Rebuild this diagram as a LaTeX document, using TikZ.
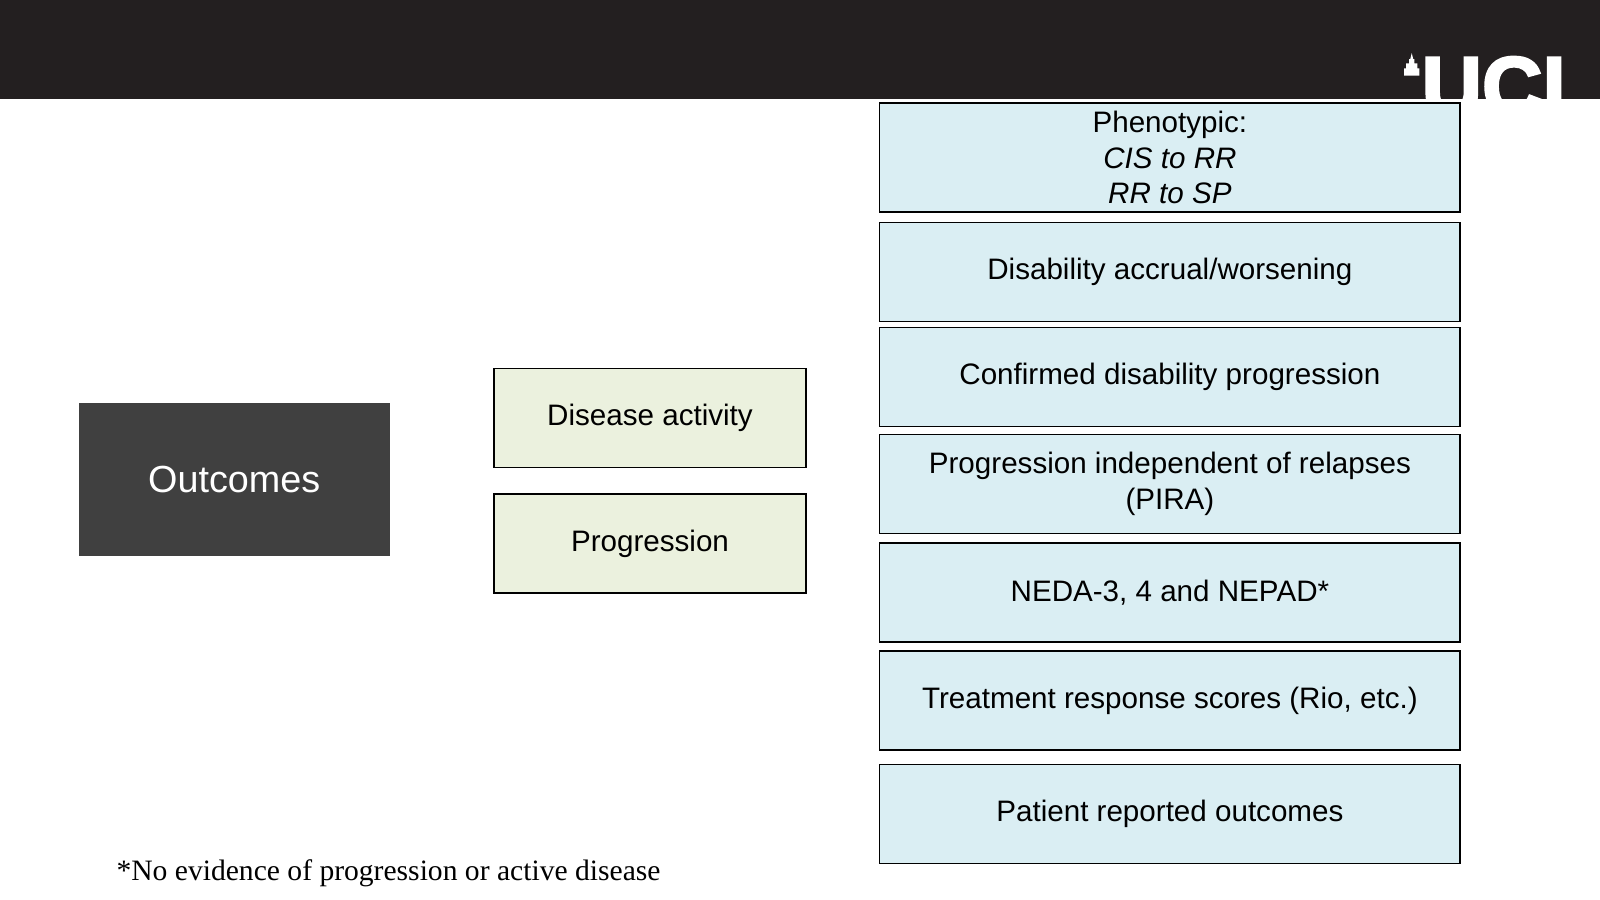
\documentclass[tikz,border=0pt]{standalone}
\usepackage{fontspec}
\setmainfont{Liberation Sans}
\newfontfamily\seriffont{Liberation Serif}
\newfontfamily\uclfont{Liberation Sans}[FakeBold=3]
\begin{document}
\begin{tikzpicture}[x=1pt,y=-1pt,
  box/.style={draw=black,line width=1.5pt,minimum width=569pt,align=center,font=\fontsize{29}{35}\selectfont,inner sep=0pt},
  blue/.style={box,fill=boxblue},
  green/.style={box,fill=boxgreen,minimum width=306pt,minimum height=97pt}]
\definecolor{boxblue}{HTML}{DAEEF3}
\definecolor{boxgreen}{HTML}{EBF1DE}
\definecolor{hdr}{HTML}{231F20}
\definecolor{dark}{HTML}{404040}
\useasboundingbox (0,0) rectangle (1568,882);
\fill[hdr] (0,0) rectangle (1568,97);
\begin{scope}
\clip (0,0) rectangle (1568,97);
\node[anchor=south west,text=white,inner sep=0pt,font=\uclfont\bfseries\fontsize{82}{82}\selectfont] (ucl) at (1393,114) {UCL};
\end{scope}
\fill[white] (1376,67) rectangle (1391,74) (1378,62) rectangle (1389,67) (1381,58) rectangle (1386,62);
\fill[white] (1383.5,52) -- (1385,58) -- (1382,58) -- cycle;
\node[fill=dark,minimum width=305pt,minimum height=150pt,text=white,font=\fontsize{37}{40}\selectfont] (out) at (229.5,470) {Outcomes};
\node[green] (da) at (637,409.5) {Disease activity};
\node[green] (pr) at (637,532.5) {Progression};
\node[blue,minimum height=107pt] (b1) at (1146.5,154.5) {Phenotypic:\\\textit{CIS to RR}\\\textit{RR to SP}};
\node[blue,minimum height=97pt] (b2) at (1146.5,266.5) {Disability accrual/worsening};
\node[blue,minimum height=97pt] (b3) at (1146.5,369.5) {Confirmed disability progression};
\node[blue,minimum height=97pt] (b4) at (1146.5,474.5) {Progression independent of relapses\\(PIRA)};
\node[blue,minimum height=97pt] (b5) at (1146.5,580.5) {NEDA-3, 4 and NEPAD*};
\node[blue,minimum height=97pt] (b6) at (1146.5,686.5) {Treatment response scores (Rio, etc.)};
\node[blue,minimum height=97pt] (b7) at (1146.5,797.5) {Patient reported outcomes};
\node[anchor=west,inner sep=0pt,font=\seriffont\fontsize{29}{30}\selectfont] (fn) at (114,856) {*No evidence of progression or active disease};
\end{tikzpicture}
\end{document}
